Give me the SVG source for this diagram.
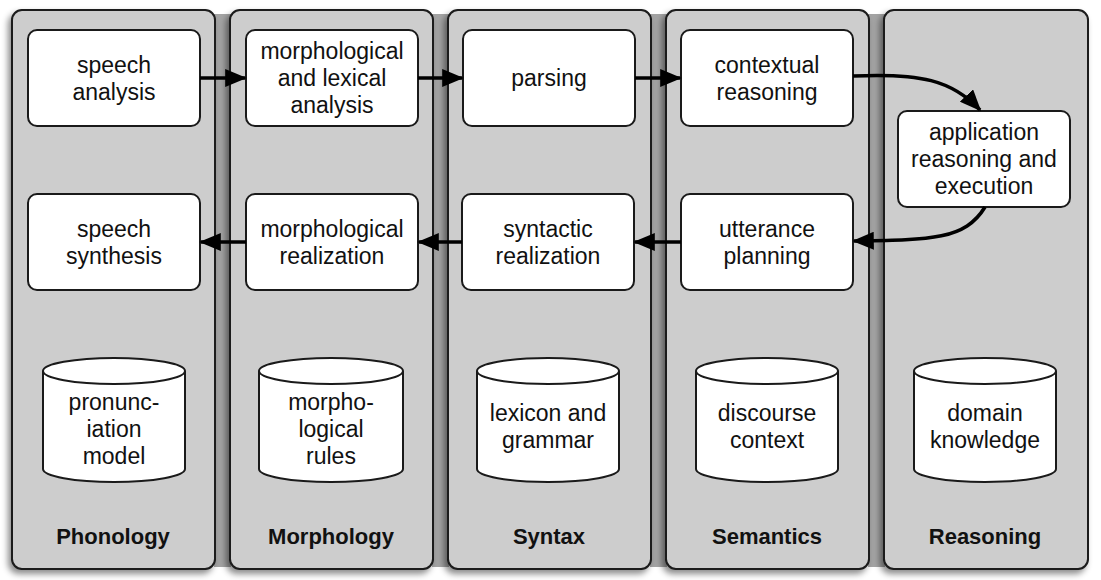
<svg xmlns="http://www.w3.org/2000/svg" width="1101" height="580" viewBox="0 0 1101 580">
<style>
.col{fill:#cdcdcd;stroke:#1a1a1a;stroke-width:2}
.gap{fill:#a3a3a3}
.box{fill:#fff;stroke:#1a1a1a;stroke-width:2}
.t{font-family:"Liberation Sans",Arial,sans-serif;font-size:23px;fill:#111;text-anchor:middle}
.h{font-family:"Liberation Sans",Arial,sans-serif;font-size:22px;font-weight:bold;fill:#111;text-anchor:middle}
.c{fill:none;stroke:#000;stroke-width:3.6}
</style>
<defs>
<filter id="sh" x="-10%" y="-5%" width="125%" height="115%">
<feDropShadow dx="-3" dy="4" stdDeviation="3" flood-color="#000" flood-opacity="0.45"/>
</filter>
<marker id="ah" markerWidth="6" markerHeight="5" refX="5.5" refY="2.5" orient="auto" markerUnits="strokeWidth">
<path d="M0,0 L6,2.5 L0,5 Z" fill="#000"/>
</marker>
</defs>
<rect width="1101" height="580" fill="#fff"/>
<g id="gaps">
<rect class="gap" x="214" y="14" width="17" height="553"/>
<rect class="gap" x="432" y="14" width="17" height="553"/>
<rect class="gap" x="650" y="14" width="17" height="553"/>
<rect class="gap" x="868" y="14" width="17" height="553"/>
</g>
<g id="columns" filter="url(#sh)">
<rect class="col" x="12" y="10" width="203" height="559" rx="10"/>
<rect class="col" x="230" y="10" width="203" height="559" rx="10"/>
<rect class="col" x="448" y="10" width="203" height="559" rx="10"/>
<rect class="col" x="666" y="10" width="203" height="559" rx="10"/>
<rect class="col" x="884" y="10" width="204" height="559" rx="10"/>
</g>
<g id="labels">
<text class="h" x="113" y="544">Phonology</text>
<text class="h" x="331" y="544">Morphology</text>
<text class="h" x="549" y="544">Syntax</text>
<text class="h" x="767" y="544">Semantics</text>
<text class="h" x="985" y="544">Reasoning</text>
</g>
<g id="speech-analysis"><rect class="box" x="28" y="30" width="172" height="96" rx="9"/><text class="t" x="114" y="73">speech</text><text class="t" x="114" y="100">analysis</text></g>
<g id="morph-lex"><rect class="box" x="246" y="30" width="172" height="96" rx="9"/><text class="t" x="332" y="59">morphological</text><text class="t" x="332" y="86">and lexical</text><text class="t" x="332" y="113">analysis</text></g>
<g id="parsing"><rect class="box" x="463" y="30" width="172" height="96" rx="9"/><text class="t" x="549" y="86">parsing</text></g>
<g id="contextual"><rect class="box" x="681" y="30" width="172" height="96" rx="9"/><text class="t" x="767" y="73">contextual</text><text class="t" x="767" y="100">reasoning</text></g>
<g id="application"><rect class="box" x="898" y="111" width="172" height="96" rx="9"/><text class="t" x="984" y="140">application</text><text class="t" x="984" y="167">reasoning and</text><text class="t" x="984" y="194">execution</text></g>
<g id="speech-synthesis"><rect class="box" x="28" y="194" width="172" height="96" rx="9"/><text class="t" x="114" y="237">speech</text><text class="t" x="114" y="264">synthesis</text></g>
<g id="morph-real"><rect class="box" x="246" y="194" width="172" height="96" rx="9"/><text class="t" x="332" y="237">morphological</text><text class="t" x="332" y="264">realization</text></g>
<g id="syntactic"><rect class="box" x="462" y="194" width="172" height="96" rx="9"/><text class="t" x="548" y="237">syntactic</text><text class="t" x="548" y="264">realization</text></g>
<g id="utterance"><rect class="box" x="681" y="194" width="172" height="96" rx="9"/><text class="t" x="767" y="237">utterance</text><text class="t" x="767" y="264">planning</text></g>
<g id="pronunciation"><path class="box" d="M43,371 L43,469 A71,13 0 0 0 185,469 L185,371 A71,13 0 0 0 43,371 A71,13 0 0 0 185,371"/><text class="t" x="114" y="410">pronunc-</text><text class="t" x="114" y="437">iation</text><text class="t" x="114" y="464">model</text></g>
<g id="morpho-rules"><path class="box" d="M259,371 L259,469 A72,13 0 0 0 403,469 L403,371 A72,13 0 0 0 259,371 A72,13 0 0 0 403,371"/><text class="t" x="331" y="410">morpho-</text><text class="t" x="331" y="437">logical</text><text class="t" x="331" y="464">rules</text></g>
<g id="lexicon"><path class="box" d="M477,371 L477,469 A71,13 0 0 0 619,469 L619,371 A71,13 0 0 0 477,371 A71,13 0 0 0 619,371"/><text class="t" x="548" y="421">lexicon and</text><text class="t" x="548" y="448">grammar</text></g>
<g id="discourse"><path class="box" d="M696,371 L696,469 A71,13 0 0 0 838,469 L838,371 A71,13 0 0 0 696,371 A71,13 0 0 0 838,371"/><text class="t" x="767" y="421">discourse</text><text class="t" x="767" y="448">context</text></g>
<g id="domain"><path class="box" d="M914,371 L914,469 A71,13 0 0 0 1056,469 L1056,371 A71,13 0 0 0 914,371 A71,13 0 0 0 1056,371"/><text class="t" x="985" y="421">domain</text><text class="t" x="985" y="448">knowledge</text></g>
<g id="connectors">
<line class="c" x1="200" y1="78" x2="245" y2="78" marker-end="url(#ah)"/>
<line class="c" x1="418" y1="78" x2="462" y2="78" marker-end="url(#ah)"/>
<line class="c" x1="635" y1="78" x2="680" y2="78" marker-end="url(#ah)"/>
<path class="c" d="M853,76 C920,73 952,80 980,110" marker-end="url(#ah)"/>
<path class="c" d="M985,207 C965,240 930,240 854,241" marker-end="url(#ah)"/>
<line class="c" x1="681" y1="242" x2="635" y2="242" marker-end="url(#ah)"/>
<line class="c" x1="462" y1="242" x2="419" y2="242" marker-end="url(#ah)"/>
<line class="c" x1="246" y1="242" x2="201" y2="242" marker-end="url(#ah)"/>
</g>
</svg>
